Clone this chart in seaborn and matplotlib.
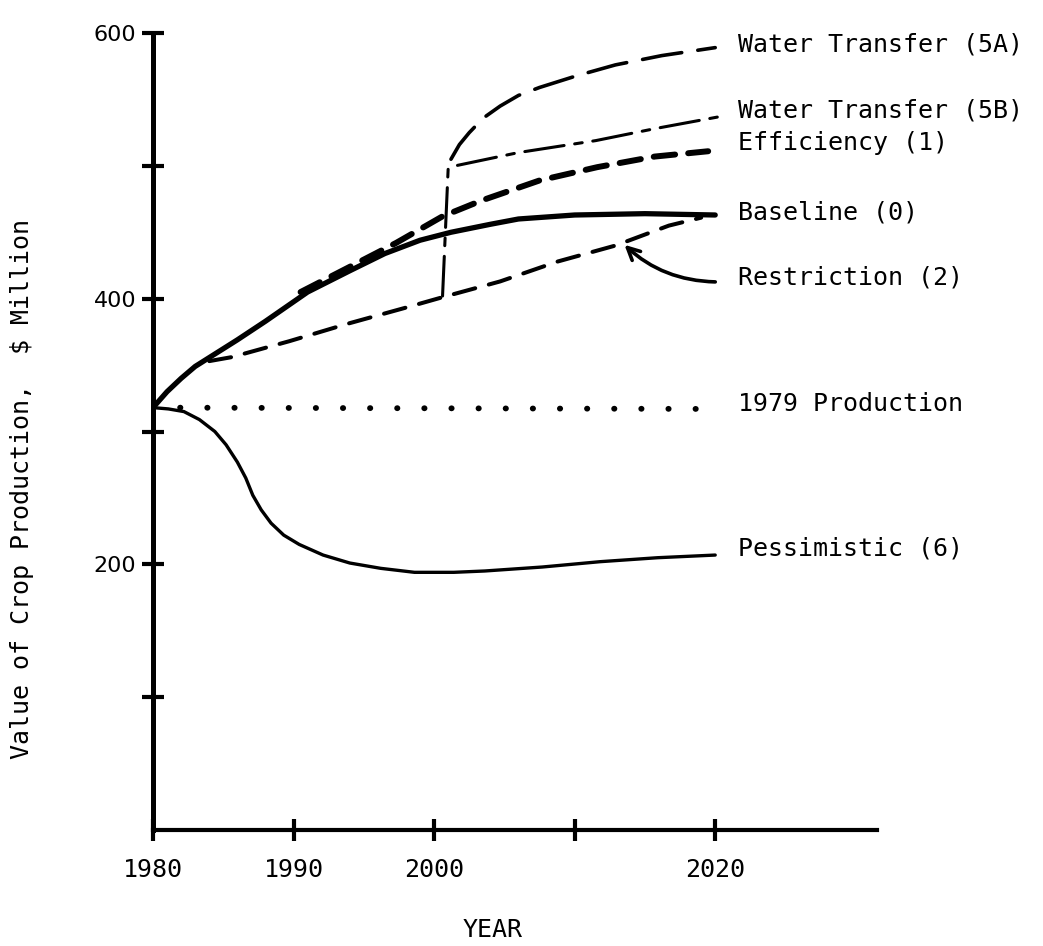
import matplotlib
matplotlib.use("Agg")
import matplotlib.pyplot as plt
import numpy as np
import pandas as pd
import seaborn as sns

# values (year, $ million)
baseline_yr = [1980, 1981, 1982, 1983, 1984.2, 1986, 1988, 1991, 1994, 1996.5, 1999, 2001.2, 2004, 2006, 2010, 2015, 2020]
baseline_val = [318, 330, 340, 349, 357, 369, 383, 405, 421, 434, 444, 450, 456, 460, 463, 464, 463]

efficiency_yr = [1990.5, 1994, 1997.3, 2000.6, 2003.4, 2007.5, 2011.6, 2015.7, 2019.5]
efficiency_val = [405, 424, 442, 462, 474, 489, 499, 507, 511]

restriction_yr = [1984, 1985.6, 1989.7, 1993.8, 1997.9, 2000.9, 2004.7, 2008.8, 2012.9, 2016.7, 2019]
restriction_val = [353, 356, 368, 381, 393, 402, 413, 428, 440, 455, 461]

transfer5a_yr = [2001.2, 2001.8, 2002.5, 2003.5, 2004.7, 2006, 2007.5, 2009, 2010.2, 2012.9, 2016.2, 2020]
transfer5a_val = [505, 516, 525, 536, 545, 553, 559, 564, 568, 576, 583, 589]

transfer5b_yr = [2000.6, 2001.0, 2001.5, 2006, 2011.5, 2015.7, 2020.3]
transfer5b_val = [402, 498, 500, 510, 519, 528, 537]

pessimistic_yr = [1980, 1981.1, 1982.2, 1983.3, 1984.4, 1985.2, 1986, 1986.6, 1987.1, 1987.7, 1988.4,
                  1989.3, 1990.4, 1992.1, 1994, 1996.2, 1998.6, 2001.4, 2003.6, 2007.7, 2011.8, 2015.9, 2020]
pessimistic_val = [318, 317, 315, 309, 300, 290, 277, 265, 252, 241, 231,
                   222, 215, 207, 201, 197, 194, 194, 195, 198, 202, 205, 207]

prod1979_yr = [1980, 2019.5]
prod1979_val = [318, 317]

# label text and the value each label sits at
label_names = ["Water Transfer (5A)", "Water Transfer (5B)", "Efficiency (1)", "Baseline (0)",
               "Restriction (2)", "1979 Production", "Pessimistic (6)"]
label_vals = [591, 542, 517, 465, 416, 321, 212]

x_ticks = [1980, 1990, 2000, 2010, 2020]
x_ticklabels = ["1980", "1990", "2000", "", "2020"]
y_ticks = [100, 200, 300, 400, 500, 600]
y_ticklabels = ["", "200", "", "400", "", "600"]

sns.set_style("ticks")
plt.rcParams['font.family'] = ['DejaVu Sans Mono', 'DejaVu Sans']
for key in ["text.color", "axes.edgecolor", "xtick.color", "ytick.color", "axes.labelcolor"]:
    plt.rcParams[key] = "black"

fig = plt.figure(figsize=(10.43, 9.46), dpi=100)
ax = fig.add_axes([0.1467, 0.1226, 0.694, 0.8425])

def draw(xs, ys, lw, ls):
    sns.lineplot(x=xs, y=ys, ax=ax, color="black", lw=lw, linestyle=ls,
                 estimator=None, sort=False, legend=False,
                 dash_capstyle="round", solid_capstyle="round",
                 solid_joinstyle="round", dash_joinstyle="round")

draw(prod1979_yr, prod1979_val, 4.2, (0, (0.05, 4.6)))
draw(pessimistic_yr, pessimistic_val, 2.4, "-")
draw(restriction_yr, restriction_val, 2.9, (0, (5.5, 3.5)))
draw(baseline_yr, baseline_val, 3.8, "-")
draw(efficiency_yr, efficiency_val, 4.3, (0, (3.6, 2.2)))
draw(transfer5a_yr, transfer5a_val, 2.6, (0, (11, 4.5)))
draw(transfer5b_yr, transfer5b_val, 2.2, (0, (13, 3.5, 2.5, 3.5)))

# labels right of the lines
for name, val in zip(label_names, label_vals):
    ax.text(2021.6, val, name, fontsize=18, va="center", ha="left", clip_on=False)

# curved arrow from the Restriction label to its line
ax.annotate("", xy=(2013.4, 442), xytext=(2020.2, 412.6),
            arrowprops=dict(arrowstyle="->", color="black", lw=2.6,
                            mutation_scale=22,
                            connectionstyle="arc3,rad=-0.2"))

ax.set_xlim(1980, 2031.5)
ax.set_ylim(0, 600)
ax.set_xticks(x_ticks)
ax.set_xticklabels(x_ticklabels, fontsize=18)
ax.set_yticks(y_ticks)
ax.set_yticklabels(y_ticklabels, fontsize=16, family="DejaVu Sans")
ax.tick_params(axis="x", direction="inout", length=16, width=3, pad=12)
ax.tick_params(axis="y", direction="inout", length=16, width=3, pad=4)

sns.despine(ax=ax)
ax.spines["left"].set_linewidth(3.6)
ax.spines["bottom"].set_linewidth(3.0)
ax.set_xlabel("")
ax.set_ylabel("")

fig.text(493 / 1043, 1 - 930 / 946, "YEAR", fontsize=18, ha="center", va="center")
fig.text(22 / 1043, 1 - 489 / 946, "Value of Crop Production,  $ Million",
         fontsize=18, rotation=90, ha="center", va="center")

fig.savefig("out.png", dpi=100)
